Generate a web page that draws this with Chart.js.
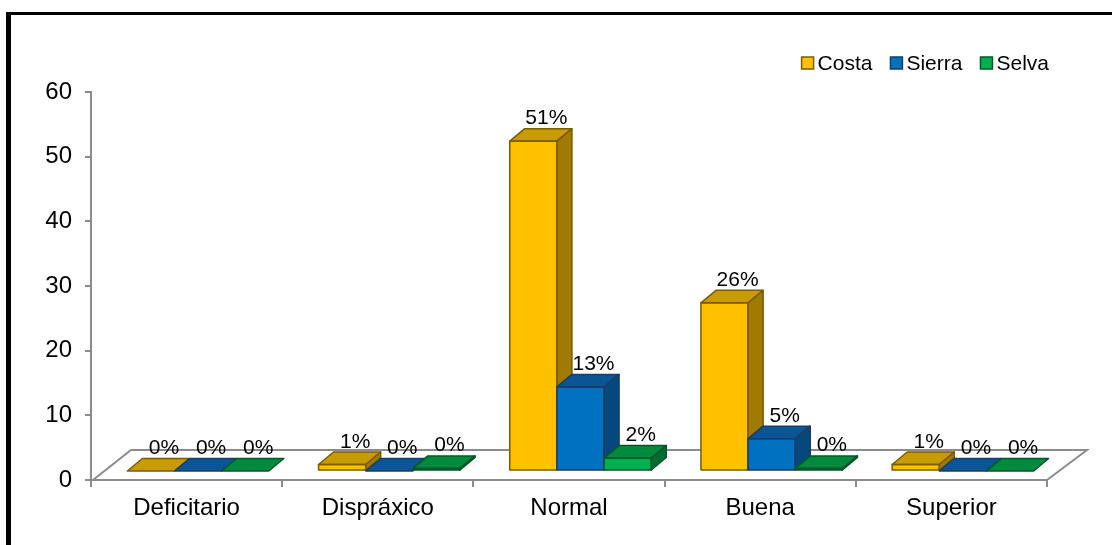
<!DOCTYPE html>
<html>
<head>
<meta charset="utf-8">
<script src="https://cdn.jsdelivr.net/npm/chart.js@4/dist/chart.umd.min.js"></script>
<style>
  html, body { margin: 0; padding: 0; background: #fff; }
  #wrap { position: relative; width: 1112px; height: 545px; overflow: hidden; }
  #frame {
    position: absolute; left: 6px; top: 12px; width: 1200px; height: 600px;
    border-left: 5px solid #000; border-top: 3px solid #000;
  }
  #chart { position: absolute; left: 0; top: 0; }
</style>
</head>
<body>
<div id="wrap">
  <div id="frame"></div>
  <canvas id="chart" width="1112" height="545"></canvas>
</div>
<script>
// --- Data ---
const categories = ["Deficitario", "Dispráxico", "Normal", "Buena", "Superior"];
const costaValues = [0, 1, 51, 26, 1];
const sierraValues = [0, 0, 13, 5, 0];
const selvaValues = [0, 0.4, 2, 0.4, 0];
const seriesNames = ["Costa", "Sierra", "Selva"];
const yMin = 0, yMax = 60, yStep = 10;

// face colours per series: front, top, side, outline
const palette = [
  { front: "#FFC000", top: "#C89B00", side: "#A17B00", line: "#7A5B00" },
  { front: "#0070C0", top: "#0B5596", side: "#04487D", line: "#1B3D66" },
  { front: "#00B050", top: "#008A3D", side: "#006D30", line: "#00582A" }
];

const FONT = '"Liberation Sans", Arial, sans-serif';
const AXIS_GRAY = "#8c8c8c";

// 3D offsets: how far the bars sit back on the floor, and the bar depth
const shiftX = 11.5, shiftY = -9;
const depthX = 15, depthY = -12.5;
const floorX = 40, floorY = -30;

Chart.defaults.font.family = FONT;
Chart.defaults.color = "#000";

// Floor parallelogram behind the bars
const floorPlugin = {
  id: "floor",
  beforeDatasetsDraw(chart) {
    const { ctx, chartArea: a } = chart;
    ctx.save();
    ctx.strokeStyle = AXIS_GRAY;
    ctx.lineWidth = 2;
    ctx.beginPath();
    ctx.moveTo(a.left + 2, a.bottom);
    ctx.lineTo(a.left + floorX, a.bottom + floorY);
    ctx.lineTo(a.right + floorX, a.bottom + floorY);
    ctx.lineTo(a.right, a.bottom);
    ctx.stroke();
    ctx.restore();
  }
};

// Bars drawn by hand in series order so the faces overlap correctly
const bars3dPlugin = {
  id: "bars3d",
  beforeDatasetDraw() { return false; },
  afterDatasetsDraw(chart) {
    const ctx = chart.ctx;
    chart.data.datasets.forEach((ds, di) => {
      const meta = chart.getDatasetMeta(di);
      const c = palette[di];
      ctx.save();
      ctx.translate(shiftX, shiftY);
      meta.data.forEach((bar) => {
        const { x, y, base, width } = bar.getProps(["x", "y", "base", "width"], true);
        const l = x - width / 2, r = x + width / 2;
        bar.draw(ctx);
        ctx.lineWidth = 1.5;
        ctx.lineJoin = "round";
        ctx.strokeStyle = c.line;
        // top face
        ctx.beginPath();
        ctx.moveTo(l, y);
        ctx.lineTo(l + depthX, y + depthY);
        ctx.lineTo(r + depthX, y + depthY);
        ctx.lineTo(r, y);
        ctx.closePath();
        ctx.fillStyle = c.top;
        ctx.fill();
        ctx.stroke();
        // side face
        if (base - y > 0.5) {
          ctx.beginPath();
          ctx.moveTo(r, y);
          ctx.lineTo(r + depthX, y + depthY);
          ctx.lineTo(r + depthX, base + depthY);
          ctx.lineTo(r, base);
          ctx.closePath();
          ctx.fillStyle = c.side;
          ctx.fill();
          ctx.stroke();
          ctx.strokeRect(l, y, width, base - y);
        }
      });
      ctx.restore();
    });

    // value labels
    ctx.save();
    ctx.font = "21px " + FONT;
    ctx.fillStyle = "#000";
    ctx.textAlign = "center";
    ctx.textBaseline = "alphabetic";
    chart.data.datasets.forEach((ds, di) => {
      chart.getDatasetMeta(di).data.forEach((bar, i) => {
        const { x, y } = bar.getProps(["x", "y"], true);
        ctx.fillText(Math.round(ds.data[i]) + "%", x + shiftX + 13, y + shiftY + depthY - 4.5);
      });
    });
    ctx.restore();
  }
};

// Legend in the top right corner
const legendPlugin = {
  id: "cornerLegend",
  afterDraw(chart) {
    const { ctx, chartArea: a } = chart;
    const box = 12, gap = 4, spacing = 18;
    ctx.save();
    ctx.font = "21px " + FONT;
    ctx.textBaseline = "middle";
    ctx.textAlign = "left";
    const widths = chart.data.datasets.map(ds => ctx.measureText(ds.label).width);
    const total = widths.reduce((s, w) => s + box + gap + w, 0) + spacing * (widths.length - 1);
    let x = a.right + 2 - total;
    const cy = 63;
    chart.data.datasets.forEach((ds, di) => {
      ctx.fillStyle = palette[di].front;
      ctx.fillRect(x, cy - box / 2, box, box);
      ctx.strokeStyle = palette[di].line;
      ctx.lineWidth = 1.5;
      ctx.strokeRect(x, cy - box / 2, box, box);
      ctx.fillStyle = "#000";
      ctx.fillText(ds.label, x + box + gap, cy + 1);
      x += box + gap + widths[di] + spacing;
    });
    ctx.restore();
  }
};

const seriesValues = [costaValues, sierraValues, selvaValues];

new Chart(document.getElementById("chart"), {
  type: "bar",
  data: {
    labels: categories,
    datasets: seriesNames.map((name, i) => ({
      label: name,
      data: seriesValues[i],
      backgroundColor: palette[i].front,
      borderColor: palette[i].line,
      borderWidth: 0,
      categoryPercentage: 0.74,
      barPercentage: 1
    }))
  },
  options: {
    responsive: false,
    animation: false,
    devicePixelRatio: 1,
    layout: { padding: { top: 92, right: 65, left: 0, bottom: 0 } },
    plugins: {
      legend: { display: false },
      tooltip: { enabled: false }
    },
    scales: {
      x: {
        grid: { drawOnChartArea: false, tickLength: 7, offset: true, color: AXIS_GRAY, lineWidth: 2 },
        border: { color: AXIS_GRAY, width: 2 },
        ticks: { font: { size: 24 }, color: "#000", padding: 7, maxRotation: 0 },
        afterFit: s => { s.height = 65; }
      },
      y: {
        min: yMin,
        max: yMax,
        grid: { drawOnChartArea: false, tickLength: 6, color: AXIS_GRAY, lineWidth: 2 },
        border: { color: AXIS_GRAY, width: 2 },
        ticks: { stepSize: yStep, font: { size: 24 }, color: "#000", padding: 13 },
        afterFit: s => { s.width = 91; }
      }
    }
  },
  plugins: [floorPlugin, bars3dPlugin, legendPlugin]
});
</script>
</body>
</html>
